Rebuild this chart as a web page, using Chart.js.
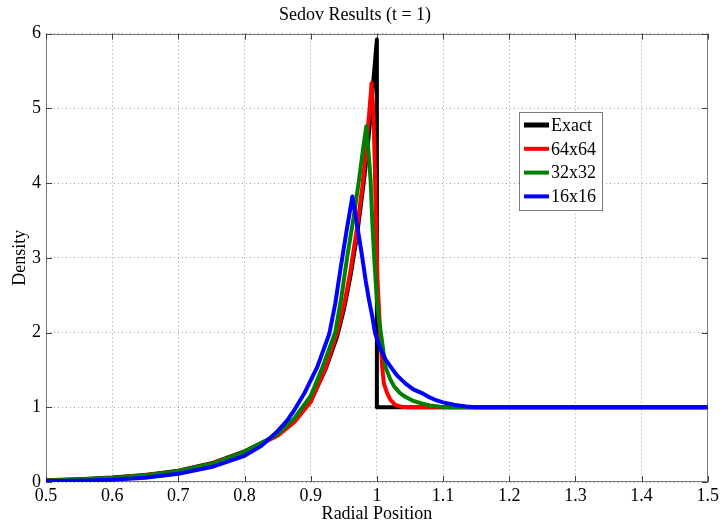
<!DOCTYPE html>
<html>
<head>
<meta charset="utf-8">
<script src="https://cdn.jsdelivr.net/npm/chart.js@4.4.0/dist/chart.umd.min.js"></script>
<style>
  html, body { margin: 0; padding: 0; background: #fff; }
</style>
</head>
<body>
<canvas id="chart" width="722" height="525"></canvas>
<script>
// series labels and colours (legend order)
const seriesNames = ['Exact', '64x64', '32x32', '16x16'];
const seriesColors = ['#000000', '#ff0000', '#008000', '#0000ff'];

// exact solution
const exactR   = [0.5, 0.55, 0.6, 0.65, 0.7, 0.75, 0.8, 0.85, 0.875, 0.9, 0.923, 0.94, 0.95, 0.96, 0.97, 0.98, 0.985, 0.99, 0.994, 1.0, 1.0, 1.5];
const exactRho = [0.025, 0.038, 0.06, 0.095, 0.15, 0.25, 0.41, 0.63, 0.82, 1.08, 1.52, 1.95, 2.3, 2.75, 3.3, 4.0, 4.4, 4.85, 5.3, 5.92, 1.0, 1.0];

// 64x64 run
const r64   = [0.5, 0.55, 0.6, 0.65, 0.7, 0.75, 0.8, 0.85, 0.875, 0.9, 0.923, 0.94, 0.95, 0.96, 0.97, 0.978, 0.984, 0.989, 0.992, 0.995, 0.997, 0.999, 1.001, 1.003, 1.005, 1.008, 1.0105, 1.0155, 1.0205, 1.028, 1.038, 1.05, 1.5];
const rho64 = [0.02, 0.033, 0.055, 0.09, 0.145, 0.245, 0.40, 0.62, 0.80, 1.07, 1.54, 2.0, 2.35, 2.82, 3.4, 3.95, 4.5, 5.0, 5.34, 4.9, 4.2, 3.3, 2.7, 2.35, 2.0, 1.54, 1.32, 1.19, 1.10, 1.03, 1.005, 1.0, 1.0];

// 32x32 run
const r32   = [0.5, 0.55, 0.6, 0.65, 0.7, 0.75, 0.8, 0.85, 0.875, 0.9, 0.918, 0.937, 0.946, 0.955, 0.965, 0.973, 0.979, 0.984, 0.987, 0.9905, 0.993, 0.996, 1.0, 1.003, 1.006, 1.013, 1.02, 1.026, 1.035, 1.043, 1.055, 1.068, 1.08, 1.095, 1.11, 1.5];
const rho32 = [0.02, 0.033, 0.055, 0.088, 0.143, 0.24, 0.40, 0.64, 0.85, 1.15, 1.54, 2.0, 2.45, 3.0, 3.55, 4.04, 4.45, 4.76, 4.45, 4.04, 3.5, 3.0, 2.44, 2.17, 2.0, 1.54, 1.38, 1.28, 1.19, 1.14, 1.085, 1.05, 1.025, 1.008, 1.0, 1.0];

// 16x16 run
const r16   = [0.5, 0.55, 0.6, 0.65, 0.7, 0.75, 0.8, 0.825, 0.85, 0.865, 0.875, 0.89, 0.91, 0.928, 0.937, 0.945, 0.954, 0.963, 0.968, 0.973, 0.978, 0.983, 0.988, 0.993, 0.997, 1.006, 1.013, 1.021, 1.03, 1.043, 1.055, 1.068, 1.078, 1.088, 1.1, 1.118, 1.135, 1.15, 1.5];
const rho16 = [0.012, 0.018, 0.03, 0.058, 0.11, 0.2, 0.35, 0.48, 0.68, 0.83, 0.96, 1.18, 1.54, 1.98, 2.38, 2.85, 3.35, 3.82, 3.55, 3.28, 3.0, 2.7, 2.44, 2.22, 2.0, 1.77, 1.64, 1.54, 1.43, 1.32, 1.24, 1.19, 1.14, 1.10, 1.065, 1.03, 1.01, 1.0, 1.0];

// axis ticks
const xTicks = [0.5, 0.6, 0.7, 0.8, 0.9, 1.0, 1.1, 1.2, 1.3, 1.4, 1.5];
const xTickLabels = ['0.5', '0.6', '0.7', '0.8', '0.9', '1', '1.1', '1.2', '1.3', '1.4', '1.5'];
const yTicks = [0, 1, 2, 3, 4, 5, 6];
const yTickLabels = ['0', '1', '2', '3', '4', '5', '6'];

const FONT = 'Liberation Serif';

const toPoints = (xs, ys) => xs.map((x, i) => ({ x: x, y: ys[i] }));
const allR = [exactR, r64, r32, r16];
const allRho = [exactRho, rho64, rho32, rho16];

// matlab-ish box with inward ticks
const frame = {
  id: 'frame',
  beforeDatasetsDraw(chart) {
    const { ctx, chartArea: a, scales } = chart;
    ctx.save();
    ctx.strokeStyle = '#7a7a7a';
    ctx.lineWidth = 1;
    ctx.strokeRect(Math.round(a.left) + 0.5, Math.round(a.top) + 0.5,
      Math.round(a.right - a.left) - 1, Math.round(a.bottom - a.top) - 1);
    ctx.strokeStyle = '#404040';
    ctx.beginPath();
    const tl = 6;
    xTicks.forEach(v => {
      const px = Math.round(scales.x.getPixelForValue(v)) + 0.5;
      ctx.moveTo(px, a.bottom); ctx.lineTo(px, a.bottom - tl);
      ctx.moveTo(px, a.top); ctx.lineTo(px, a.top + tl);
    });
    yTicks.forEach(v => {
      const py = Math.round(scales.y.getPixelForValue(v)) + 0.5;
      ctx.moveTo(a.left, py); ctx.lineTo(a.left + tl, py);
      ctx.moveTo(a.right, py); ctx.lineTo(a.right - tl, py);
    });
    ctx.stroke();
    ctx.restore();
  }
};

// legend box inside the axes, top right
const insetLegend = {
  id: 'insetLegend',
  afterDraw(chart) {
    const ctx = chart.ctx;
    const bx = 519, by = 112, bw = 83, bh = 98;
    ctx.save();
    ctx.fillStyle = '#ffffff';
    ctx.fillRect(bx, by, bw, bh);
    ctx.strokeStyle = '#7a7a7a';
    ctx.lineWidth = 1;
    ctx.strokeRect(bx + 0.5, by + 0.5, bw, bh);
    ctx.font = '18px "' + FONT + '"';
    ctx.textBaseline = 'middle';
    ctx.textAlign = 'left';
    chart.data.datasets.forEach((ds, i) => {
      const cy = by + 13 + i * 23.8;
      ctx.strokeStyle = ds.borderColor;
      ctx.lineWidth = i === 0 ? 5 : 4;
      ctx.beginPath();
      ctx.moveTo(bx + 5, cy);
      ctx.lineTo(bx + 30, cy);
      ctx.stroke();
      ctx.fillStyle = '#000';
      ctx.fillText(ds.label, bx + 32, cy + 1);
    });
    ctx.restore();
  }
};

new Chart(document.getElementById('chart'), {
  type: 'scatter',
  data: {
    datasets: seriesNames.map((name, i) => ({
      label: name,
      data: toPoints(allR[i], allRho[i]),
      borderColor: seriesColors[i],
      backgroundColor: seriesColors[i],
      borderWidth: 4,
      showLine: true,
      pointRadius: 0,
      tension: 0,
      borderJoinStyle: 'round',
      borderCapStyle: 'butt',
      order: seriesNames.length - i
    }))
  },
  options: {
    responsive: false,
    animation: false,
    devicePixelRatio: 1,
    layout: { padding: { left: 0, right: 12, top: 0, bottom: 0 } },
    plugins: {
      legend: { display: false },
      tooltip: { enabled: false },
      title: {
        display: true,
        text: 'Sedov Results (t = 1)',
        color: '#000',
        font: { family: FONT, size: 18, weight: 'normal' },
        padding: { top: 4, bottom: 8 }
      }
    },
    scales: {
      x: {
        type: 'linear',
        min: 0.5,
        max: 1.5,
        afterBuildTicks: s => { s.ticks = xTicks.map(v => ({ value: v })); },
        afterFit: s => { s.height = 43; },
        grid: { color: '#a0a0a0', drawTicks: false, lineWidth: 1 },
        border: { display: false, dash: [1, 3] },
        ticks: {
          color: '#000',
          padding: 3,
          autoSkip: false,
          maxRotation: 0,
          font: { family: FONT, size: 18 },
          callback: (v, i) => xTickLabels[i]
        },
        title: {
          display: true,
          text: 'Radial Position',
          color: '#000',
          font: { family: FONT, size: 18 },
          padding: { top: 0, bottom: 0 }
        }
      },
      y: {
        type: 'linear',
        min: 0,
        max: 6,
        afterBuildTicks: s => { s.ticks = yTicks.map(v => ({ value: v })); },
        afterFit: s => { s.width = 46; },
        grid: { color: '#a0a0a0', drawTicks: false, lineWidth: 1 },
        border: { display: false, dash: [1, 3] },
        ticks: {
          color: '#000',
          padding: 5,
          font: { family: FONT, size: 18 },
          callback: (v, i) => yTickLabels[i]
        },
        title: {
          display: true,
          text: 'Density',
          color: '#000',
          font: { family: FONT, size: 18 },
          padding: { top: 9, bottom: 0 }
        }
      }
    }
  },
  plugins: [frame, insetLegend]
});
</script>
</body>
</html>
